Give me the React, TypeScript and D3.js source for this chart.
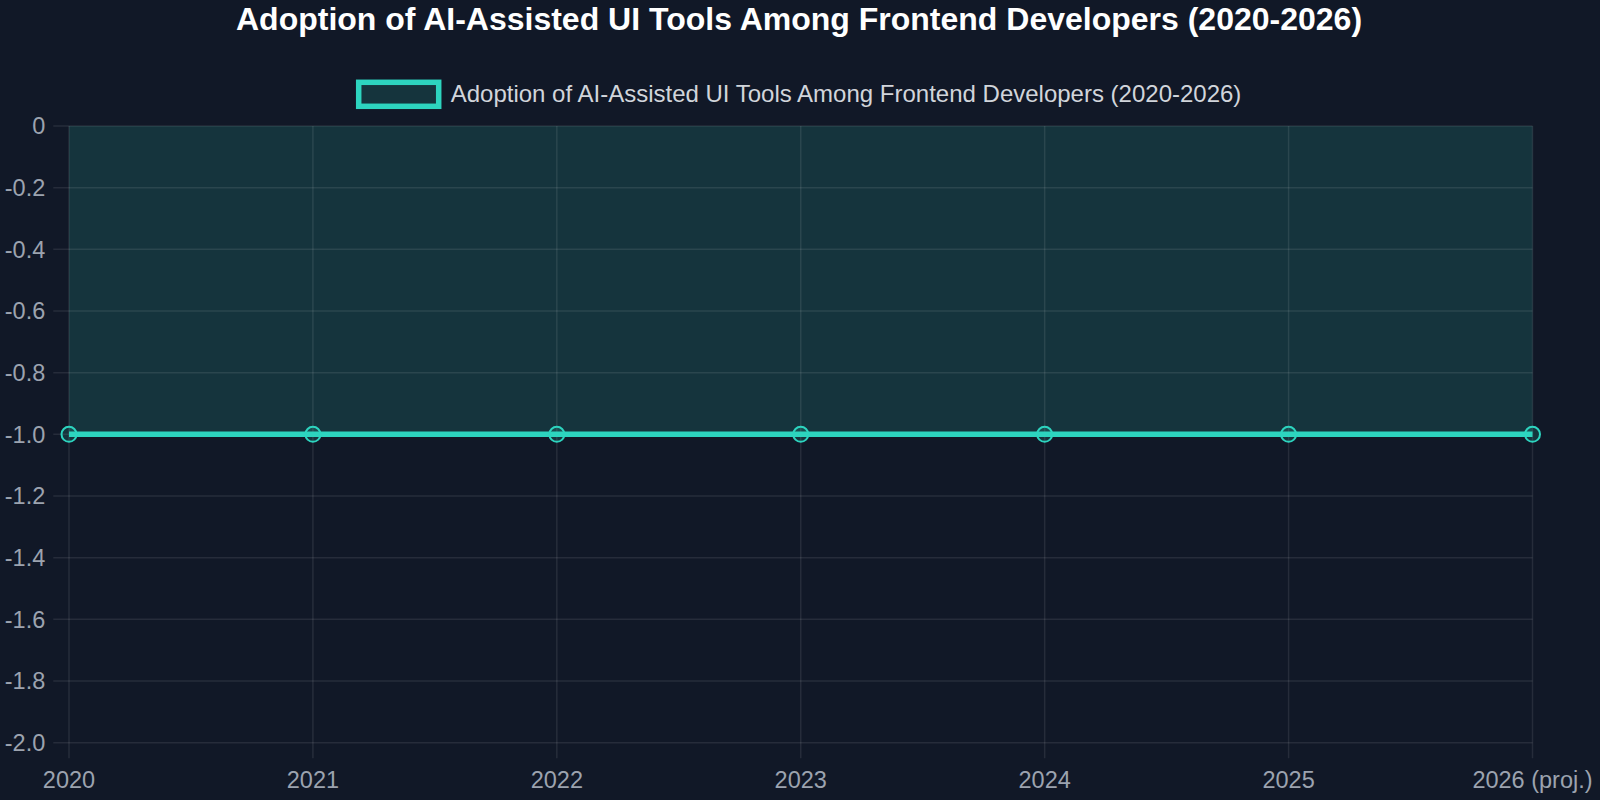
import React from "react";
import * as d3 from "d3";

const categories = ["2020", "2021", "2022", "2023", "2024", "2025", "2026 (proj.)"];
const values = [-1, -1, -1, -1, -1, -1, -1];
const yTicks = [0, -0.2, -0.4, -0.6, -0.8, -1.0, -1.2, -1.4, -1.6, -1.8, -2.0];
const title = "Adoption of AI-Assisted UI Tools Among Frontend Developers (2020-2026)";
const seriesName = "Adoption of AI-Assisted UI Tools Among Frontend Developers (2020-2026)";

const W = 1600;
const H = 800;
const left = 69;
const right = 1532.5;
const top = 126;
const bottom = 742.7;
const teal = "#2dd4bf";
const bg = "#111827";
const grid = "rgba(255,255,255,0.09)";
const font = "'Liberation Sans', Arial, Helvetica, sans-serif";

export default function App() {
  const x = d3.scalePoint<string>().domain(categories).range([left, right]);
  const y = d3.scaleLinear().domain([-2, 0]).range([bottom, top]);
  const pts = categories.map((c, i) => ({ c, v: values[i] }));
  const line = d3
    .line<{ c: string; v: number }>()
    .x((d) => x(d.c) as number)
    .y((d) => y(d.v));
  const area = d3
    .area<{ c: string; v: number }>()
    .x((d) => x(d.c) as number)
    .y0(() => y(0))
    .y1((d) => y(d.v));
  const fmt = (v: number) => (v === 0 ? "0" : v.toFixed(1));

  return (
    <div style={{ position: "fixed", left: 0, top: 0, width: W, height: H, background: bg }}>
      <svg width={W} height={H} style={{ display: "block", fontFamily: font }}>
        <rect x={0} y={0} width={W} height={H} fill={bg} />
        <text x={799} y={30} textAnchor="middle" fill="#ffffff" fontSize={32} fontWeight="bold">
          {title}
        </text>
        {/* legend */}
        <rect x={358.7} y={82.3} width={80} height={24} fill="rgba(45,212,191,0.15)" stroke={teal} strokeWidth={5.5} />
        <text x={450.7} y={101.7} fill="#d1d5db" fontSize={24}>
          {seriesName}
        </text>
        {/* area */}
        <path d={area(pts) || ""} fill="rgba(45,212,191,0.15)" />
        {/* grid */}
        {yTicks.map((t) => (
          <g key={"y" + t}>
            <line x1={53.3} x2={right} y1={y(t)} y2={y(t)} stroke={grid} strokeWidth={1.5} />
            <text x={45.3} y={y(t)} dy="0.35em" textAnchor="end" fill="#9ca3af" fontSize={23.5}>
              {fmt(t)}
            </text>
          </g>
        ))}
        {categories.map((c) => (
          <g key={"x" + c}>
            <line x1={x(c)} x2={x(c)} y1={top} y2={758.3} stroke={grid} strokeWidth={1.5} />
            <text x={x(c)} y={787.5} textAnchor="middle" fill="#9ca3af" fontSize={23.5}>
              {c}
            </text>
          </g>
        ))}
        {/* line */}
        <path d={line(pts) || ""} fill="none" stroke={teal} strokeWidth={5.5} />
        {pts.map((d) => (
          <circle key={"p" + d.c} cx={x(d.c)} cy={y(d.v)} r={7.5} fill="rgba(45,212,191,0.15)" stroke={teal} strokeWidth={2} />
        ))}
      </svg>
    </div>
  );
}
